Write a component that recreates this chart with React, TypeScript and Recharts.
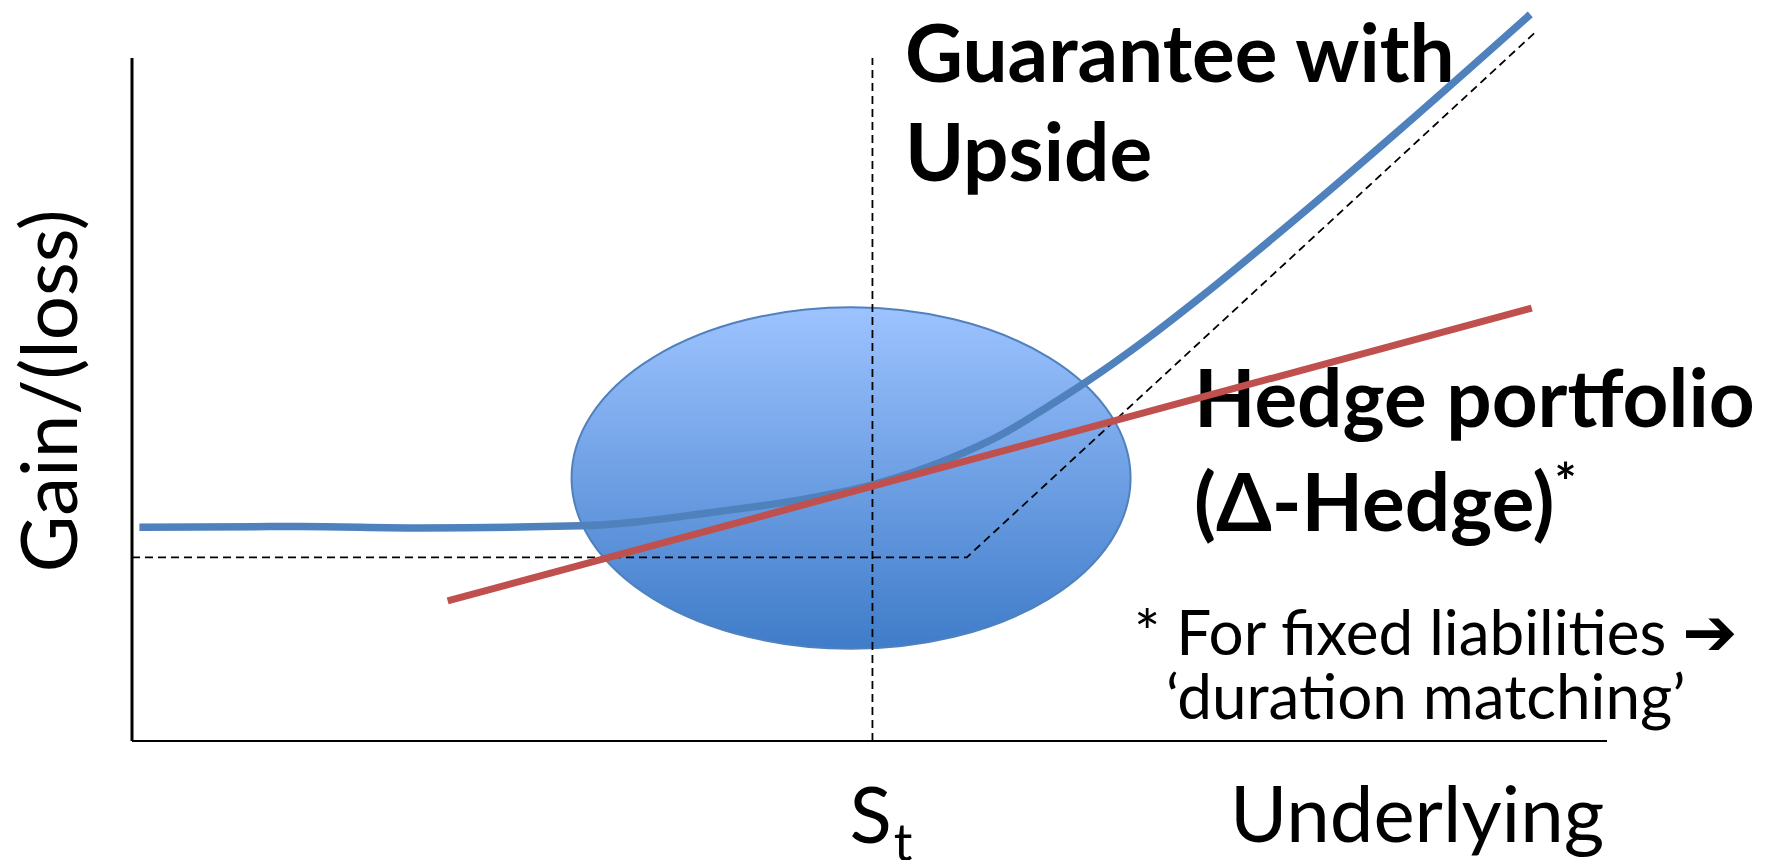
import React from 'react';
import {
  ComposedChart, Line, XAxis, YAxis, ReferenceLine, ReferenceArea,
} from 'recharts';

// Payoff sketch: guarantee with upside vs. linear delta hedge around S_t
const COLORS = {
  GUARANTEE: '#4F81BD',
  HEDGE: '#C0504D',
  CLOUD_TOP: '#9DC3FF',
  CLOUD_BOTTOM: '#3F7CC9',
  CLOUD_EDGE: '#4F81BD',
};

const FONT = 'Lato, "DejaVu Sans", sans-serif';

// x = underlying level, y = gain/(loss); axes run 0..100
const ST = 50.2;

const guaranteeX = [0.5, 11.4, 19.5, 30.4, 40.1, 45.3, 50.2, 55.5, 58.9, 62.2, 65.6, 69.0, 72.4, 79.2, 86.0, 94.8];
const guaranteeY = [31.3, 31.4, 31.2, 31.5, 33.7, 35.3, 37.5, 41.4, 44.8, 49.1, 53.9, 59.2, 64.9, 77.0, 89.6, 106.4];

const hedgeX = [21.4, 94.9];
const hedgeY = [20.5, 63.4];

const floorX = [0, 56.6, 95.3];
const floorY = [26.9, 26.9, 104.1];

// spread of the underlying around S_t
const cloudX = [29.8, 67.7];
const cloudY = [13.5, 63.5];

const zip = (xs: number[], ys: number[]) => xs.map((x, i) => ({ x, y: ys[i] }));

const guaranteeData = zip(guaranteeX, guaranteeY);
const hedgeData = zip(hedgeX, hedgeY);
const floorData = zip(floorX, floorY);

const CloudShape = (props: any) => {
  const { x, y, width, height } = props;
  return (
    <g>
      <defs>
        <linearGradient id="cloudFill" x1="0" y1="0" x2="0" y2="1">
          <stop offset="0" stopColor={COLORS.CLOUD_TOP} />
          <stop offset="1" stopColor={COLORS.CLOUD_BOTTOM} />
        </linearGradient>
      </defs>
      <ellipse
        cx={x + width / 2}
        cy={y + height / 2}
        rx={width / 2}
        ry={height / 2}
        fill="url(#cloudFill)"
        stroke={COLORS.CLOUD_EDGE}
        strokeWidth={2}
      />
    </g>
  );
};

const StTick = (props: any) => {
  const { x, y } = props;
  return (
    <text x={x - 23} y={y + 102} fontFamily={FONT} fontSize={78} fill="#000">
      S
      <tspan fontSize={52} dx={2} dy={18}>t</tspan>
    </text>
  );
};

export default function App() {
  return (
    <div style={{ position: 'absolute', left: 0, top: 0, width: 1767, height: 860, background: '#fff' }}>
      <ComposedChart width={1767} height={860} margin={{ top: 0, right: 160, bottom: 0, left: 132 }}>
        <XAxis
          type="number"
          dataKey="x"
          domain={[0, 100]}
          ticks={[ST]}
          tick={<StTick />}
          tickLine={false}
          tickSize={0}
          tickMargin={0}
          height={119}
          axisLine={{ stroke: '#000', strokeWidth: 2 }}
        />
        <YAxis type="number" dataKey="y" domain={[0, 108.5]} hide />

        <ReferenceArea
          x1={cloudX[0]}
          x2={cloudX[1]}
          y1={cloudY[0]}
          y2={cloudY[1]}
          shape={<CloudShape />}
        />

        {/* vertical axis stops short of the top */}
        <ReferenceLine segment={[{ x: 0, y: 0 }, { x: 0, y: 100 }]} stroke="#000" strokeWidth={3} />
        <ReferenceLine
          segment={[{ x: ST, y: 0 }, { x: ST, y: 100 }]}
          stroke="#000"
          strokeWidth={1.8}
          strokeDasharray="8 5"
        />

        <Line
          data={floorData}
          dataKey="y"
          type="linear"
          stroke="#000"
          strokeWidth={1.8}
          strokeDasharray="8 5"
          dot={false}
          activeDot={false}
          isAnimationActive={false}
        />
        <Line
          data={guaranteeData}
          dataKey="y"
          type="monotone"
          stroke={COLORS.GUARANTEE}
          strokeWidth={7.5}
          dot={false}
          activeDot={false}
          isAnimationActive={false}
        />
        <Line
          data={hedgeData}
          dataKey="y"
          type="linear"
          stroke={COLORS.HEDGE}
          strokeWidth={7}
          dot={false}
          activeDot={false}
          isAnimationActive={false}
        />

        <text x={77} y={391} transform="rotate(-90, 77, 391)" textAnchor="middle" fontFamily={FONT} fontSize={78} fill="#000">
          Gain/(loss)
        </text>
        <text x={1230} y={842} fontFamily={FONT} fontSize={78} fill="#000">Underlying</text>

        <text fontFamily={FONT} fontSize={80} fontWeight={700} fill="#000">
          <tspan x={905} y={82}>Guarantee with</tspan>
          <tspan x={905} y={181}>Upside</tspan>
        </text>

        <text fontFamily={FONT} fontSize={80} fontWeight={700} fill="#000">
          <tspan x={1194} y={427}>Hedge portfolio</tspan>
          <tspan x={1194} y={531}>(Δ-Hedge)</tspan>
          <tspan fontSize={52} dy={-30}>*</tspan>
        </text>

        <text fontFamily={FONT} fontSize={62} fill="#000">
          <tspan x={1134} y={655}>* For fixed liabilities </tspan>
          <tspan fontFamily='"DejaVu Sans", sans-serif' fontWeight={700} fontSize={66}>➔</tspan>
          <tspan x={1166} y={719}>‘duration matching’</tspan>
        </text>
      </ComposedChart>
    </div>
  );
}
